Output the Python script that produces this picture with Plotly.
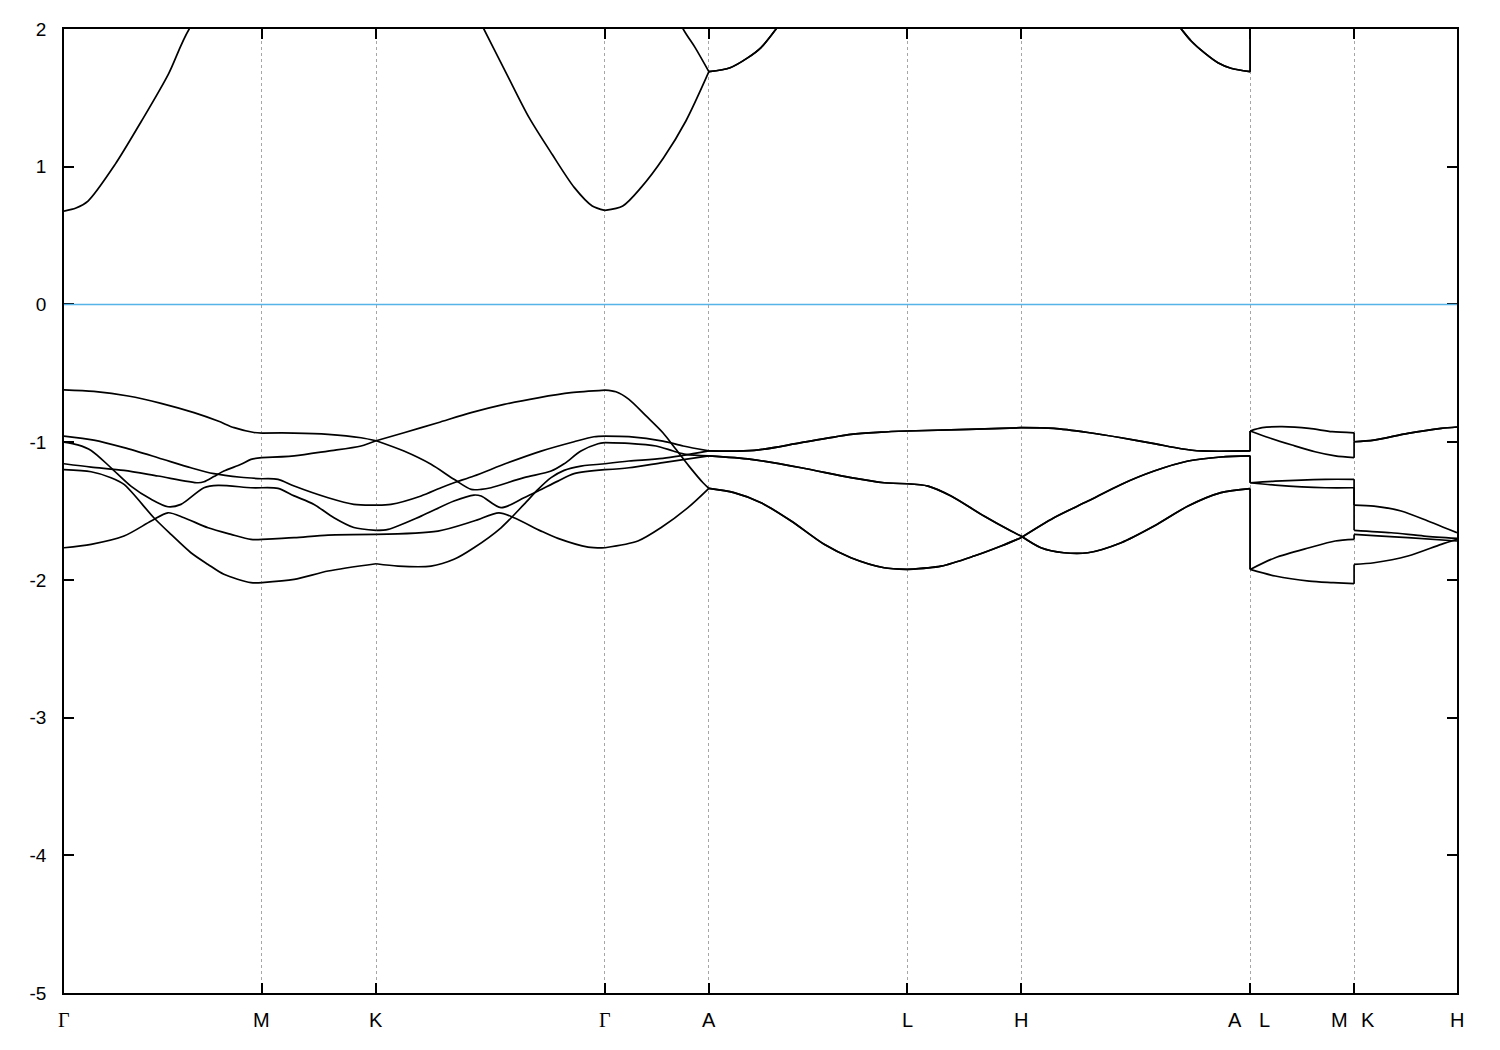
import plotly.graph_objects as go

# ---------------- high-symmetry path ----------------
node_k = [0.0, 0.577, 0.910, 1.577, 1.880, 2.458, 2.790, 3.458, 3.761, 4.061]
label_k = [0.0, 0.577, 0.910, 1.577, 1.880, 2.458, 2.790, 3.458, 3.458, 3.761, 3.761, 4.061]
label_txt = ["Γ", "M", "K", "Γ", "A", "L", "H", "A", "L", "M", "K", "H"]
label_shift = [0, 0, 0, 0, 0, 0, 0, -15, 14, -15, 14, 0]

y_ticks = [2, 1, 0, -1, -2, -3, -4, -5]
y_ticktext = ["2", "1", "0", "-1", "-2", "-3", "-4", "-5"]

# ---------------- band data (k, energy in eV) ----------------
# segment Γ-M-K-Γ-A
b1_k = [0, 0.087, 0.187, 0.283, 0.379, 0.449, 0.496, 0.554, 0.577, 0.671, 0.770, 0.866, 0.910,
        0.991, 1.070, 1.137, 1.187, 1.216, 1.245, 1.341, 1.420, 1.458, 1.507, 1.557, 1.577,
        1.647, 1.726, 1.776, 1.813, 1.880]
b1_E = [-0.62, -0.632, -0.665, -0.718, -0.786, -0.847, -0.895, -0.93, -0.934, -0.934, -0.943, -0.968, -0.99,
        -1.065, -1.161, -1.27, -1.343, -1.343, -1.331, -1.258, -1.21, -1.157, -1.065, -1.012, -1.004,
        -1.009, -1.028, -1.064, -1.089, -1.10]

b2_k = [0, 0.087, 0.175, 0.274, 0.370, 0.437, 0.516, 0.577, 0.624, 0.671, 0.770, 0.845, 0.910,
        0.953, 1.041, 1.099, 1.137, 1.195, 1.294, 1.391, 1.487, 1.545, 1.577,
        1.647, 1.746, 1.805, 1.880]
b2_E = [-0.956, -0.985, -1.04, -1.113, -1.186, -1.229, -1.255, -1.266, -1.27, -1.319, -1.404, -1.452, -1.457,
        -1.452, -1.391, -1.331, -1.295, -1.246, -1.15, -1.065, -0.997, -0.961, -0.956,
        -0.96, -0.992, -1.028, -1.064]

b3_k = [0, 0.040, 0.079, 0.137, 0.195, 0.254, 0.303, 0.341, 0.408, 0.449, 0.545, 0.577, 0.624, 0.671,
        0.729, 0.787, 0.845, 0.910,
        0.945, 1.041, 1.137, 1.195, 1.216, 1.274, 1.341, 1.382, 1.440, 1.487, 1.577,
        1.647, 1.746, 1.880]
b3_E = [-1.0, -1.02, -1.06, -1.186, -1.319, -1.415, -1.469, -1.452, -1.331, -1.314, -1.331, -1.331, -1.336, -1.39,
        -1.452, -1.549, -1.62, -1.64,
        -1.633, -1.537, -1.428, -1.384, -1.391, -1.476, -1.404, -1.355, -1.283, -1.229, -1.20,
        -1.186, -1.149, -1.10]

b4_k = [0, 0.079, 0.175, 0.274, 0.391, 0.408, 0.437, 0.466, 0.516, 0.545, 0.577, 0.671, 0.770, 0.866, 0.910,
        0.991, 1.090, 1.187, 1.283, 1.382, 1.478, 1.577,
        1.609, 1.647, 1.697, 1.746, 1.784, 1.822, 1.863, 1.880]
b4_E = [-1.157, -1.181, -1.205, -1.246, -1.295, -1.288, -1.25, -1.21, -1.161, -1.125, -1.113, -1.10, -1.065, -1.028, -0.99,
        -0.932, -0.859, -0.786, -0.726, -0.678, -0.641, -0.622,
        -0.634, -0.689, -0.81, -0.932, -1.052, -1.174, -1.295, -1.336]

b5_k = [0, 0.079, 0.137, 0.175, 0.262, 0.312, 0.370, 0.420, 0.466, 0.545, 0.577, 0.671, 0.770, 0.910,
        0.974, 1.070, 1.137, 1.195, 1.274, 1.341, 1.382, 1.420, 1.458, 1.507, 1.577,
        1.647, 1.746, 1.880]
b5_E = [-1.20, -1.215, -1.258, -1.307, -1.549, -1.67, -1.803, -1.888, -1.96, -2.02, -2.02, -1.997, -1.936, -1.883,
        -1.90, -1.90, -1.851, -1.767, -1.622, -1.452, -1.343, -1.258, -1.205, -1.174, -1.157,
        -1.137, -1.118, -1.064]

b6_k = [0, 0.079, 0.175, 0.254, 0.303, 0.350, 0.420, 0.487, 0.545, 0.577, 0.671, 0.770, 0.910,
        1.090, 1.195, 1.268, 1.312, 1.391, 1.440, 1.528, 1.577,
        1.673, 1.741, 1.819, 1.880]
b6_E = [-1.767, -1.742, -1.682, -1.573, -1.513, -1.549, -1.622, -1.67, -1.706, -1.706, -1.694, -1.675, -1.67,
        -1.646, -1.573, -1.513, -1.549, -1.646, -1.699, -1.762, -1.767,
        -1.718, -1.62, -1.476, -1.336]

c1_k = [0, 0.035, 0.070, 0.149, 0.226, 0.304, 0.365, 0.577, 0.910, 1.100, 1.224, 1.291, 1.356, 1.423, 1.488, 1.540,
        1.577, 1.629, 1.682, 1.748, 1.813, 1.880]
c1_E = [0.678, 0.70, 0.751, 1.017, 1.332, 1.671, 2.0, 2.7, 3.0, 2.6, 2.0, 1.671, 1.356, 1.09, 0.848, 0.715,
        0.683, 0.715, 0.848, 1.065, 1.332, 1.69]

c2_k = [0, 0.577, 0.910, 1.577, 1.711, 1.805, 1.840, 1.880]
c2_E = [2.9, 3.2, 3.2, 2.9, 2.5, 2.0, 1.865, 1.69]

# segment A-L-H-A (pairwise degenerate)
p_top_k = [1.880, 2.012, 2.149, 2.294, 2.382, 2.458, 2.636, 2.790, 2.886, 2.985, 3.082, 3.178, 3.257, 3.315, 3.458]
p_top_E = [-1.064, -1.06, -1.004, -0.943, -0.927, -0.919, -0.907, -0.895, -0.90, -0.93, -0.968, -1.011, -1.048, -1.064, -1.064]

p_mid_k = [1.880, 2.003, 2.149, 2.294, 2.391, 2.458, 2.519, 2.586, 2.682, 2.761, 2.790, 2.848, 2.915, 2.985,
           3.082, 3.178, 3.277, 3.373, 3.458]
p_mid_E = [-1.10, -1.125, -1.186, -1.258, -1.295, -1.302, -1.319, -1.391, -1.537, -1.646, -1.682, -1.767, -1.803, -1.803,
           -1.73, -1.609, -1.464, -1.367, -1.338]

p_low_k = [1.880, 1.953, 2.032, 2.120, 2.216, 2.294, 2.391, 2.458, 2.557, 2.653, 2.732, 2.790, 2.886, 2.985,
           3.082, 3.178, 3.277, 3.373, 3.458]
p_low_E = [-1.336, -1.367, -1.44, -1.573, -1.742, -1.839, -1.912, -1.924, -1.90, -1.827, -1.754, -1.694, -1.549, -1.428,
           -1.307, -1.21, -1.137, -1.108, -1.10]

p_cond_k = [1.880, 1.942, 1.994, 2.032, 2.076, 2.200, 2.458, 2.790, 3.100, 3.257, 3.286, 3.324, 3.364, 3.402, 3.458]
p_cond_E = [1.69, 1.719, 1.792, 1.865, 2.0, 2.4, 2.8, 3.0, 2.5, 2.0, 1.913, 1.828, 1.755, 1.715, 1.69]

# segment L-M
b1_LM_k = [3.458, 3.531, 3.630, 3.706, 3.761]
b1_LM_E = [-1.924, -1.839, -1.767, -1.718, -1.706]
b2_LM_k = [3.458, 3.493, 3.551, 3.630, 3.697, 3.761]
b2_LM_E = [-0.919, -0.895, -0.888, -0.90, -0.924, -0.932]
b3_LM_k = [3.458, 3.531, 3.630, 3.700, 3.761]
b3_LM_E = [-1.924, -1.972, -2.009, -2.02, -2.028]
b4_LM_k = [3.458, 3.531, 3.677, 3.761]
b4_LM_E = [-1.295, -1.283, -1.27, -1.27]
b5_LM_k = [3.458, 3.513, 3.580, 3.647, 3.706, 3.761]
b5_LM_E = [-0.919, -0.968, -1.021, -1.07, -1.10, -1.113]
b6_LM_k = [3.458, 3.531, 3.677, 3.761]
b6_LM_E = [-1.295, -1.312, -1.331, -1.331]
c1_LM_k = [3.458, 3.761]
c1_LM_E = [2.6, 2.6]
c2_LM_k = [3.458, 3.761]
c2_LM_E = [2.9, 2.9]

# segment K-H
b1_KH_k = [3.761, 3.830, 3.918, 4.061]
b1_KH_E = [-1.67, -1.68, -1.694, -1.718]
top_KH_k = [3.761, 3.819, 3.918, 4.015, 4.061]
top_KH_E = [-0.997, -0.985, -0.936, -0.90, -0.89]
b3_KH_k = [3.761, 3.819, 3.918, 4.015, 4.061]
b3_KH_E = [-1.888, -1.876, -1.827, -1.742, -1.706]
b4_KH_k = [3.761, 3.819, 3.898, 3.976, 4.036, 4.061]
b4_KH_E = [-1.457, -1.464, -1.50, -1.573, -1.633, -1.658]
b6_KH_k = [3.761, 3.869, 3.965, 4.061]
b6_KH_E = [-1.64, -1.658, -1.682, -1.699]
c1_KH_k = [3.761, 4.061]
c1_KH_E = [2.8, 2.8]
c2_KH_k = [3.761, 4.061]
c2_KH_E = [3.1, 3.1]

bands = [
    (b1_k + p_mid_k[1:] + b1_LM_k + b1_KH_k, b1_E + p_mid_E[1:] + b1_LM_E + b1_KH_E),
    (b2_k + p_top_k[1:] + b2_LM_k + top_KH_k, b2_E + p_top_E[1:] + b2_LM_E + top_KH_E),
    (b3_k + p_mid_k[1:] + b3_LM_k + b3_KH_k, b3_E + p_mid_E[1:] + b3_LM_E + b3_KH_E),
    (b4_k + p_low_k[1:] + b4_LM_k + b4_KH_k, b4_E + p_low_E[1:] + b4_LM_E + b4_KH_E),
    (b5_k + p_top_k[1:] + b5_LM_k + top_KH_k, b5_E + p_top_E[1:] + b5_LM_E + top_KH_E),
    (b6_k + p_low_k[1:] + b6_LM_k + b6_KH_k, b6_E + p_low_E[1:] + b6_LM_E + b6_KH_E),
    (c1_k + p_cond_k[1:] + c1_LM_k + c1_KH_k, c1_E + p_cond_E[1:] + c1_LM_E + c1_KH_E),
    (c2_k + p_cond_k[1:] + c2_LM_k + c2_KH_k, c2_E + p_cond_E[1:] + c2_LM_E + c2_KH_E),
]


def is_node(k):
    return any(abs(k - n) < 1e-9 for n in node_k)


def build_path(ks, es):
    """Split a band at high-symmetry points (keeps kinks sharp) and add vertical jumps."""
    xs, ys = [], []
    cur = [(ks[0], es[0])]
    runs = []
    for i in range(1, len(ks)):
        k, e = ks[i], es[i]
        if abs(k - ks[i - 1]) < 1e-9:
            runs.append([(k, es[i - 1]), (k, e)])
            cur = [(k, e)]
            continue
        cur.append((k, e))
        if is_node(k) and i < len(ks) - 1:
            runs.append(cur)
            cur = [(k, e)]
    runs.append(cur)
    for r in runs:
        if len(r) < 2:
            continue
        for k, e in r:
            xs.append(k)
            ys.append(e)
        xs.append(None)
        ys.append(None)
    return xs, ys


fig = go.Figure()
for ks, es in bands:
    xs, ys = build_path(ks, es)
    fig.add_trace(go.Scatter(x=xs, y=ys, mode="lines",
                             line=dict(color="black", width=1.7, shape="spline", smoothing=0.8),
                             connectgaps=False, showlegend=False, hoverinfo="skip"))

fig.add_hline(y=0, line=dict(color="#56b4e9", width=1.6))

for k, t, s in zip(label_k, label_txt, label_shift):
    fam = "Liberation Serif" if t == "Γ" else "Liberation Sans"
    fig.add_annotation(x=k, xref="x", y=0, yref="paper", yanchor="top", yshift=-14, xshift=s,
                       text=t, showarrow=False, font=dict(family=fam, size=20, color="black"))

fig.update_layout(
    width=1500, height=1050,
    margin=dict(l=56, r=51, t=21, b=65),
    paper_bgcolor="white", plot_bgcolor="white",
    font=dict(family="Liberation Sans", size=19, color="black"),
    showlegend=False,
)
fig.update_xaxes(range=[0, node_k[-1]], tickvals=node_k, showticklabels=False,
                 ticks="inside", ticklen=10, tickwidth=1.5, tickcolor="black",
                 showline=True, mirror="ticks", linecolor="black", linewidth=1.5,
                 showgrid=True, gridcolor="#a6a6a6", gridwidth=1, griddash="3px,3px", zeroline=False)
fig.update_yaxes(range=[-5, 2], tickvals=y_ticks, ticktext=y_ticktext,
                 ticks="inside", ticklen=10, tickwidth=1.5, tickcolor="black",
                 showline=True, mirror="ticks", linecolor="black", linewidth=1.5,
                 showgrid=False, zeroline=False, ticklabelstandoff=12,
                 tickfont=dict(family="Liberation Sans", size=19, color="black"))

fig.write_html("out.html")
